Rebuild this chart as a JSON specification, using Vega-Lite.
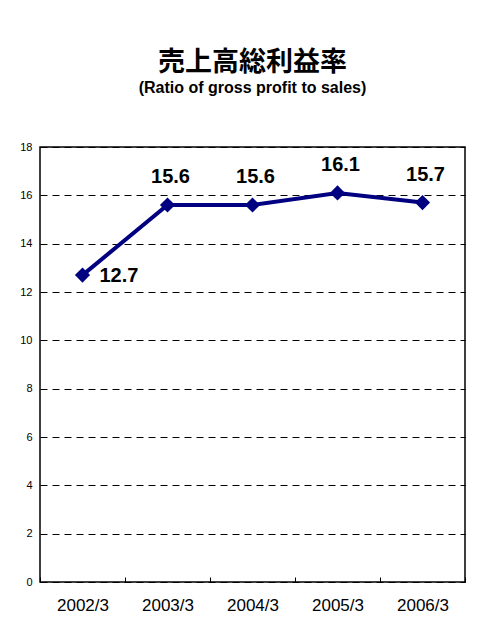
{
  "$schema": "https://vega.github.io/schema/vega-lite/v6.json",
  "autosize": {"type": "none"},
  "width": 425,
  "height": 435,
  "padding": {"left": 40, "top": 147, "right": 23, "bottom": 50},
  "background": "white",
  "title": {
    "text": "売上高総利益率",
    "subtitle": "(Ratio of gross profit to sales)",
    "anchor": "middle",
    "font": "Noto Sans CJK JP",
    "fontSize": 27,
    "fontWeight": "bold",
    "color": "black",
    "subtitleFont": "Liberation Sans",
    "subtitleFontSize": 16,
    "subtitleFontWeight": "bold",
    "subtitleColor": "black",
    "subtitlePadding": 3,
    "offset": 44
  },
  "config": {
    "view": {"stroke": "black", "strokeWidth": 1.5},
    "axis": {"labelFont": "Liberation Sans", "labelColor": "black", "domain": false}
  },
  "data": {
    "values": [
      {"year": "2002/3", "value": 12.7},
      {"year": "2003/3", "value": 15.6},
      {"year": "2004/3", "value": 15.6},
      {"year": "2005/3", "value": 16.1},
      {"year": "2006/3", "value": 15.7}
    ]
  },
  "encoding": {
    "x": {
      "field": "year", "type": "ordinal",
      "scale": {"paddingInner": 0, "paddingOuter": 0},
      "axis": {
        "title": null, "labelAngle": 0, "labelFontSize": 17,
        "tickBand": "extent", "tickSize": -5, "tickColor": "black",
        "labelPadding": 20, "grid": false
      }
    },
    "y": {
      "field": "value", "type": "quantitative",
      "scale": {"domain": [0, 18], "nice": false},
      "axis": {
        "title": null, "values": [0, 2, 4, 6, 8, 10, 12, 14, 16, 18],
        "ticks": false, "labelPadding": 8, "labelFontSize": 11,
        "grid": true, "gridColor": "black", "gridDash": [7, 5], "gridWidth": 1
      }
    }
  },
  "layer": [
    {"mark": {"type": "line", "color": "#000080", "strokeWidth": 4}},
    {"mark": {"type": "point", "shape": "diamond", "filled": true, "color": "#000080", "size": 230, "opacity": 1}},
    {
      "transform": [{"filter": "datum.year == '2002/3'"}],
      "mark": {"type": "text", "align": "left", "baseline": "middle", "dx": 17, "dy": 1, "font": "Liberation Sans", "fontSize": 20, "fontWeight": "bold", "color": "black"},
      "encoding": {"text": {"field": "value", "type": "quantitative", "format": ".1f"}}
    },
    {
      "transform": [{"filter": "datum.year != '2002/3'"}],
      "mark": {"type": "text", "align": "center", "baseline": "middle", "dx": 3, "dy": -28, "font": "Liberation Sans", "fontSize": 20, "fontWeight": "bold", "color": "black"},
      "encoding": {"text": {"field": "value", "type": "quantitative", "format": ".1f"}}
    }
  ]
}
